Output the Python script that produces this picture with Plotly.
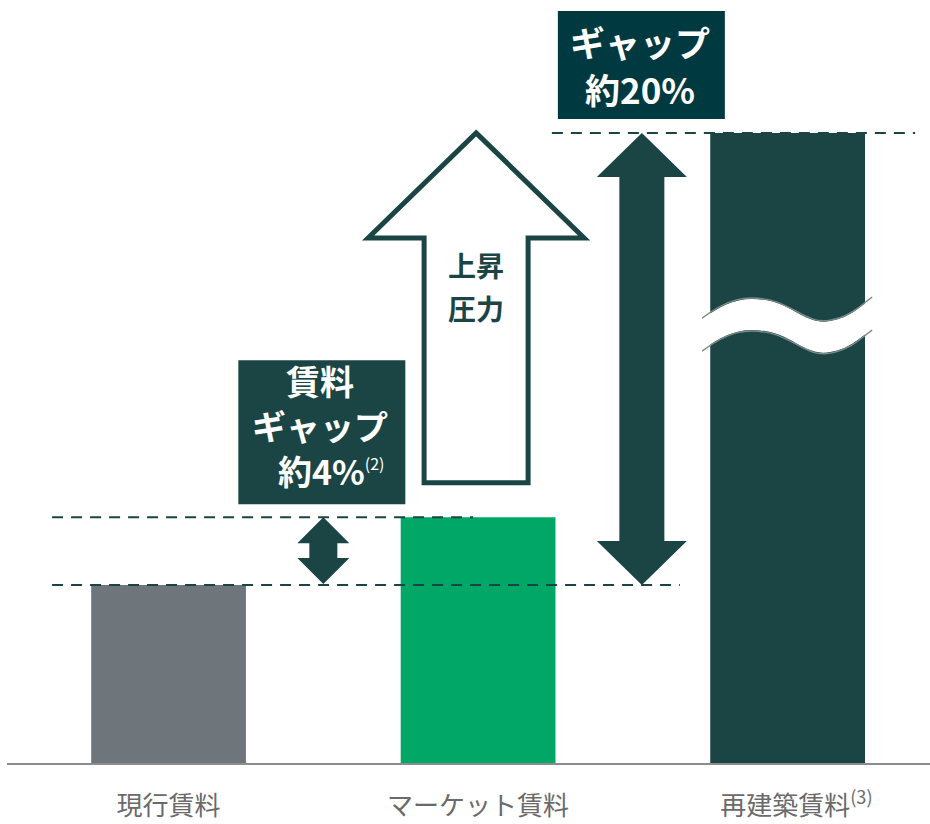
import plotly.graph_objects as go

# ---- data -------------------------------------------------------------
categories = ["現行賃料", "マーケット賃料", "再建築賃料"]
tick_text = ["現行賃料", "マーケット賃料", "&nbsp;&nbsp;&nbsp;再建築賃料<sup>(3)</sup>"]
rent_level = [100, 138, 354]          # schematic bar heights (not to scale)
bar_colors = ["#6e767c", "#00a766", "#1b4545"]
small_gap_lines = ["賃料", "ギャップ", "約4%"]
small_gap_note = "(2)"
large_gap_lines = ["ギャップ", "約20%"]
pressure_lines = ["上昇", "圧力"]

# ---- styling / geometry -----------------------------------------------
DARK = "#1b4545"
BOX_DARK = "#003a40"
FONT = "Noto Sans CJK JP"

W, H = 930, 824
M_L, M_B = 7, 61
X_RANGE = [-0.522, 2.460]
Y_RANGE = [0, 428.65]
SX = (W - M_L) / (X_RANGE[1] - X_RANGE[0])   # pixels per category unit
SY = (H - M_B) / (Y_RANGE[1] - Y_RANGE[0])   # pixels per value unit


def ux(p):
    return p / SX


def uy(p):
    return p / SY


cur, mkt, reb = rent_level
x_small = 0.5                 # small double arrow between bar 0 and bar 1
x_big = 1.5 + ux(9)           # large double arrow between bar 1 and bar 2
x_up = 1.0 - ux(2)            # outlined "pressure" arrow above bar 1

fig = go.Figure()
fig.add_trace(go.Bar(
    x=categories, y=rent_level, width=0.5,
    marker=dict(color=bar_colors, line=dict(width=0)),
    hoverinfo="skip",
))

shapes = []

# dashed reference levels
dash = dict(color=DARK, width=2, dash="11px,8px")
shapes.append(dict(type="line", xref="x", yref="y", x0=-ux(116.5), x1=x_big + ux(38),
                   y0=cur, y1=cur, line=dash))
shapes.append(dict(type="line", xref="x", yref="y", x0=-ux(116.5), x1=1 - ux(5),
                   y0=mkt, y1=mkt, line=dash))
shapes.append(dict(type="line", xref="x", yref="y", x0=x_big - ux(90), x1=2 + ux(127.5),
                   y0=reb, y1=reb, line=dash))


def double_arrow(xc, y_lo, y_hi, head_half, shaft_half, head_h):
    hw, sw, hh = ux(head_half), ux(shaft_half), uy(head_h)
    pts = [(xc, y_hi), (xc + hw, y_hi - hh), (xc + sw, y_hi - hh), (xc + sw, y_lo + hh),
           (xc + hw, y_lo + hh), (xc, y_lo), (xc - hw, y_lo + hh), (xc - sw, y_lo + hh),
           (xc - sw, y_hi - hh), (xc - hw, y_hi - hh)]
    return "M " + " L ".join(f"{x:.5f},{y:.4f}" for x, y in pts) + " Z"


shapes.append(dict(type="path", xref="x", yref="y", path=double_arrow(x_big, cur, reb, 45, 22.5, 44),
                   fillcolor=DARK, line=dict(width=0)))
shapes.append(dict(type="path", xref="x", yref="y",
                   path=double_arrow(x_small, cur + uy(1), mkt, 26, 14, 26),
                   fillcolor=DARK, line=dict(width=0)))

# outlined upward arrow
tip = reb
head_base = tip - uy(105)
bottom = mkt + uy(34.5)
hw, sw = ux(108), ux(52)
up_pts = [(x_up, tip), (x_up + hw, head_base), (x_up + sw, head_base), (x_up + sw, bottom),
          (x_up - sw, bottom), (x_up - sw, head_base), (x_up - hw, head_base)]
shapes.append(dict(type="path", xref="x", yref="y",
                   path="M " + " L ".join(f"{x:.5f},{y:.4f}" for x, y in up_pts) + " Z",
                   fillcolor="white", line=dict(color=DARK, width=5)))

# axis break on the tall bar (wavy white band)
break_level = 249.4
band = 31
segs = [((-62.5, -17), (-42.5, -26), (-10.5, -16)),
        ((9.5, -9), (22.5, 6), (42.5, 2)),
        ((62.5, -1), (74.5, -14), (84.5, -21))]
start = (-85.5, 0)


def pt(p, off=0):
    return f"{2 + ux(p[0]):.5f},{break_level - uy(p[1] + off):.4f}"


def edge(off):
    s = f"M {pt(start, off)}"
    for a, b, p in segs:
        s += f" C {pt(a, off)} {pt(b, off)} {pt(p, off)}"
    return s


def edge_reversed(off):
    pts = [start] + [p for _, _, p in segs]
    s = f"L {pt(pts[-1], off)}"
    for i in range(len(segs) - 1, -1, -1):
        a, b, _ = segs[i]
        s += f" C {pt(b, off)} {pt(a, off)} {pt(pts[i], off)}"
    return s


shapes.append(dict(type="path", xref="x", yref="y", path=edge(0) + " " + edge_reversed(band) + " Z",
                   fillcolor="white", line=dict(width=0)))
shapes.append(dict(type="path", xref="x", yref="y", path=edge(-1), line=dict(color="#7f8b8b", width=1.4)))
shapes.append(dict(type="path", xref="x", yref="y", path=edge(band + 1), line=dict(color="#7f8b8b", width=1.4)))

# label boxes
shapes.append(dict(type="rect", xref="x", yref="y", x0=x_small - ux(85), x1=x_small + ux(82),
                   y0=mkt + uy(13), y1=mkt + uy(157), fillcolor=DARK, line=dict(width=0)))
shapes.append(dict(type="rect", xref="x", yref="y", x0=x_big - ux(84), x1=x_big + ux(83),
                   y0=reb + uy(14), y1=reb + uy(122), fillcolor=BOX_DARK, line=dict(width=0)))

annotations = []


def label(text, x, y, size, color="white", box_h=None):
    ann = dict(text=text, x=x, y=y, xref="x", yref="y", showarrow=False,
               xanchor="center", yanchor="middle", align="center", borderpad=0,
               font=dict(family=FONT, size=size, color=color, weight="bold"))
    if box_h:
        ann["height"] = box_h
    annotations.append(ann)


# gap box beside the small arrow: one annotation per line
small_offsets = [137, 92, 47]
for i, line in enumerate(small_gap_lines):
    txt, xc = line, x_small - ux(3)
    if i == len(small_gap_lines) - 1:
        txt = (line + "<sup><span style='font-size:16px;font-weight:400'>"
               + small_gap_note + "</span></sup>")
        xc = x_small + ux(8)
    label(txt, xc, mkt + uy(small_offsets[i]), 34, box_h=38)

for line, off in zip(large_gap_lines, [91.5, 45]):
    label(line, x_big - ux(2), reb + uy(off), 35, box_h=40)

for line, off in zip(pressure_lines, [27, 70]):
    label(line, x_up, head_base - uy(off), 28, DARK)

fig.update_layout(
    width=W, height=H,
    margin=dict(l=M_L, r=0, t=0, b=M_B),
    paper_bgcolor="white", plot_bgcolor="white",
    showlegend=False,
    shapes=shapes, annotations=annotations,
    xaxis=dict(range=X_RANGE, tickmode="array", tickvals=categories, ticktext=tick_text,
               showgrid=False, zeroline=False, showline=True, linecolor="#8c8c8c", linewidth=2,
               ticks="", ticklabelstandoff=19,
               tickfont=dict(family=FONT, size=26, color="#6a6a6a")),
    yaxis=dict(range=Y_RANGE, visible=False, fixedrange=True),
)

fig.write_html("out.html")
